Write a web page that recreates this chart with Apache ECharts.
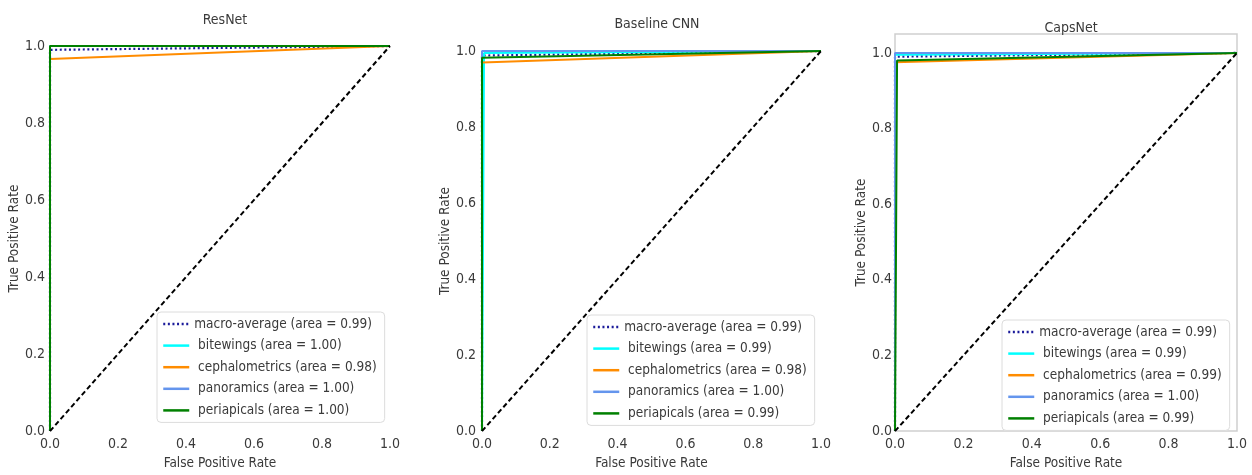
<!DOCTYPE html>
<html>
<head>
<meta charset="utf-8">
<script src="https://cdn.jsdelivr.net/npm/echarts@6/dist/echarts.min.js"></script>
<style>
html,body{margin:0;padding:0;background:#fff;}
#c{width:1252px;height:475px;}
</style>
</head>
<body>
<div id="c"></div>
<script>
// ---- data ----
const panelTitles = ['ResNet', 'Baseline CNN', 'CapsNet'];
const classNames = ['bitewings', 'cephalometrics', 'panoramics', 'periapicals'];
const classColors = ['#00FFFF', '#FF8C00', '#6495ED', '#008000'];
const macroAuc = [0.99, 0.99, 0.99];
const aucResNet = [1.00, 0.98, 1.00, 1.00];
const aucCNN = [0.99, 0.98, 1.00, 0.99];
const aucCaps = [0.99, 0.99, 1.00, 0.99];

// ROC points [fpr, tpr]
const resnetMacro = [[0, 0], [0, 0.99], [1, 1]];
const resnetBitewings = [[0, 0], [0, 1.0], [1, 1]];
const resnetCephalo = [[0, 0], [0, 0.966], [1, 1]];
const resnetPanoramics = [[0, 0], [0, 1.0], [1, 1]];
const resnetPeriapicals = [[0, 0], [0, 1.0], [1, 1]];

const cnnMacro = [[0, 0], [0, 0.988], [1, 1]];
const cnnBitewings = [[0, 0], [0.006, 0.995], [1, 1]];
const cnnCephalo = [[0, 0], [0, 0.97], [1, 1]];
const cnnPanoramics = [[0, 0], [0, 1.0], [1, 1]];
const cnnPeriapicals = [[0, 0], [0, 0.982], [1, 1]];

const capsMacro = [[0, 0], [0, 0.99], [1, 1]];
const capsBitewings = [[0, 0], [0, 0.995], [1, 1]];
const capsCephalo = [[0, 0], [0, 0.975], [1, 1]];
const capsPanoramics = [[0, 0], [0, 1.0], [1, 1]];
const capsPeriapicals = [[0, 0], [0.006, 0.98], [1, 1]];

const chanceLine = [[0, 0], [1, 1]];
const yMax = [1.0, 1.0, 1.05];

// ---- layout ----
const FONT = "'DejaVu Sans Condensed', 'DejaVu Sans', sans-serif";
const TXT = '#3a3a3a';
const grids = [
  {left: 50, top: 46, width: 340, height: 387},
  {left: 482, top: 51, width: 339, height: 386},
  {left: 895, top: 34, width: 342, height: 407}
];
const titlePos = [[220, 8], [652, 12], [1066, 16]];
const legendPos = [[157, 312], [587, 315], [1002, 320]];
const yLabelMargin = [5, 6, 3];
const xNameGap = [19, 21, 20];

const panelData = [
  [resnetMacro, resnetBitewings, resnetCephalo, resnetPanoramics, resnetPeriapicals],
  [cnnMacro, cnnBitewings, cnnCephalo, cnnPanoramics, cnnPeriapicals],
  [capsMacro, capsBitewings, capsCephalo, capsPanoramics, capsPeriapicals]
];
const panelAuc = [aucResNet, aucCNN, aucCaps];

const option = {
  animation: false,
  backgroundColor: '#fff',
  textStyle: {fontFamily: FONT},
  title: [], grid: [], xAxis: [], yAxis: [], legend: [], series: []
};

for (let p = 0; p < 3; p++) {
  const g = grids[p];
  option.grid.push({
    left: g.left, top: g.top, width: g.width, height: g.height,
    show: p === 2, borderColor: '#cfcfcf', borderWidth: 1.5, backgroundColor: 'transparent'
  });
  option.title.push({
    text: panelTitles[p], left: titlePos[p][0], top: titlePos[p][1], textAlign: 'center',
    textStyle: {fontFamily: FONT, fontSize: 14, fontWeight: 'normal', color: TXT}
  });
  option.xAxis.push({
    type: 'value', gridIndex: p, min: 0, max: 1, interval: 0.2,
    name: 'False Positive Rate', nameLocation: 'middle', nameGap: xNameGap[p],
    nameTextStyle: {fontFamily: FONT, fontSize: 13.5, color: TXT, verticalAlign: 'top'},
    axisLine: {show: false}, axisTick: {show: false}, splitLine: {show: false},
    axisLabel: {fontFamily: FONT, fontSize: 14, color: TXT, margin: 6,
      formatter: v => v.toFixed(1)}
  });
  option.yAxis.push({
    type: 'value', gridIndex: p, min: 0, max: yMax[p], interval: 0.2,
    name: 'True Positive Rate', nameLocation: 'middle', nameGap: 26,
    nameTextStyle: {fontFamily: FONT, fontSize: 13.5, color: TXT},
    axisLine: {show: false}, axisTick: {show: false}, splitLine: {show: false},
    axisLabel: {fontFamily: FONT, fontSize: 14, color: TXT, margin: yLabelMargin[p],
      showMaxLabel: p !== 2,
      formatter: v => v.toFixed(1)}
  });
  const names = ['macro-average (area = ' + macroAuc[p].toFixed(2) + ')'];
  for (let i = 0; i < classNames.length; i++) {
    names.push(' ' + classNames[i] + ' (area = ' + panelAuc[p][i].toFixed(2) + ')');
  }
  option.legend.push({
    orient: 'vertical', left: legendPos[p][0], top: legendPos[p][1],
    data: names, itemWidth: 26, itemHeight: 14, itemGap: 7.6,
    padding: [5, 8, 5, 5], borderColor: '#dcdcdc', borderWidth: 1, borderRadius: 4,
    backgroundColor: 'rgba(255,255,255,0.85)', selectedMode: false,
    itemStyle: {opacity: 0},
    lineStyle: {width: 2.5},
    textStyle: {fontFamily: FONT, fontSize: 13.5, color: TXT, lineHeight: 14}
  });
  // macro-average
  option.series.push({
    type: 'line', name: names[0], xAxisIndex: p, yAxisIndex: p,
    data: panelData[p][0], symbol: 'none', clip: false, z: 1,
    lineStyle: {color: '#1a1a9a', width: 2.2, type: [2, 2.6]}, itemStyle: {color: '#1a1a9a'}
  });
  for (let i = 0; i < classNames.length; i++) {
    option.series.push({
      type: 'line', name: names[i + 1], xAxisIndex: p, yAxisIndex: p,
      data: panelData[p][i + 1], symbol: 'none', clip: false, z: 2,
      lineStyle: {color: classColors[i], width: 2}, itemStyle: {color: classColors[i]}
    });
  }
  option.series.push({
    type: 'line', name: 'chance', xAxisIndex: p, yAxisIndex: p,
    data: chanceLine, symbol: 'none', clip: false, silent: true, z: 3,
    lineStyle: {color: '#000', width: 2, type: [5, 3]}, itemStyle: {color: '#000'}
  });
}

const chart = echarts.init(document.getElementById('c'), null, {renderer: 'canvas'});
chart.setOption(option);
</script>
</body>
</html>
